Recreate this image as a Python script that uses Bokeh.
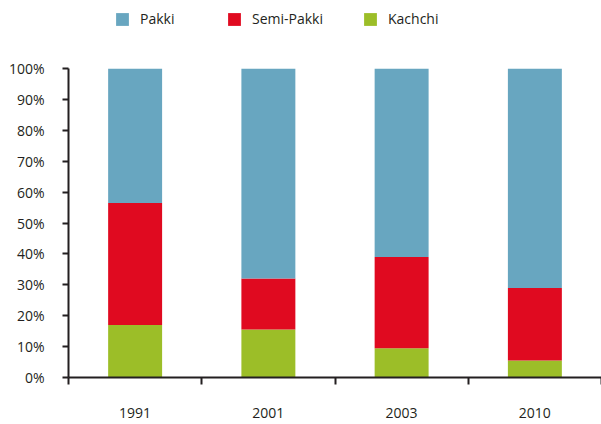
from bokeh.plotting import figure
from bokeh.layouts import column
from bokeh.models import (ColumnDataSource, Range1d, FixedTicker, NumeralTickFormatter,
                          Legend, LegendItem)
from bokeh.embed import file_html
from bokeh.resources import INLINE

years = ["1991", "2001", "2003", "2010"]
kachchi = [0.17, 0.155, 0.095, 0.055]
semi_pakki = [0.395, 0.165, 0.295, 0.235]
pakki = [0.435, 0.68, 0.61, 0.71]
series = ["Kachchi", "Semi-Pakki", "Pakki"]
colors = ["#9cbe28", "#e00a20", "#68a6c0"]

xs = [i + 0.5 for i in range(len(years))]
source = ColumnDataSource(dict(x=xs, Kachchi=kachchi, **{"Semi-Pakki": semi_pakki}, Pakki=pakki))

FONT = "Open Sans"
TXT = "#231f20"
FS = "14px"

p = figure(width=601, height=384, output_backend="svg", toolbar_location=None,
           x_range=Range1d(0, len(years)), y_range=Range1d(0, 1),
           min_border_left=68, min_border_right=0, min_border_top=28, min_border_bottom=47)
p.outline_line_color = None
p.grid.grid_line_color = None

rs = p.vbar_stack(series, x="x", width=0.405, color=colors, source=source, line_color=None)

# y axis
ya = p.yaxis[0]
ya.ticker = FixedTicker(ticks=[i / 10 for i in range(11)], minor_ticks=[])
ya.formatter = NumeralTickFormatter(format="0%")
ya.axis_line_color = TXT
ya.axis_line_width = 2
ya.major_tick_line_color = TXT
ya.major_tick_line_width = 2
ya.major_tick_in = 0
ya.major_tick_out = 6
ya.minor_tick_line_color = None
ya.major_label_standoff = 18
ya.major_label_text_font = FONT
ya.major_label_text_font_size = FS
ya.major_label_text_color = TXT

# x axis
xa = p.xaxis[0]
xa.ticker = FixedTicker(ticks=xs, minor_ticks=list(range(len(years) + 1)))
xa.major_label_overrides = {x: y for x, y in zip(xs, years)}
xa.axis_line_color = TXT
xa.axis_line_width = 2
xa.major_tick_line_color = None
xa.major_tick_in = 0
xa.major_tick_out = 0
xa.minor_tick_line_color = TXT
xa.minor_tick_line_width = 2
xa.minor_tick_in = 0
xa.minor_tick_out = 7
xa.major_label_standoff = 23
xa.major_label_text_font = FONT
xa.major_label_text_font_size = FS
xa.major_label_text_color = TXT

# legend strip above the chart (its frame is aligned with the chart frame at x=68)
lf = figure(width=601, height=40, output_backend="svg", toolbar_location=None,
            x_range=Range1d(0, 1), y_range=Range1d(0, 1), min_border=0)
lf.outline_line_color = None
lf.axis.visible = False
lf.grid.grid_line_color = None
legend_x = {"Pakki": 46, "Semi-Pakki": 158, "Kachchi": 294}
for s, c in zip(series, colors):
    r = lf.vbar(x=[0.5], top=[0], bottom=[0], width=0.1, color=c, line_color=None)
    lg = Legend(items=[LegendItem(label=s, renderers=[r])], location=(legend_x[s], 12),
                glyph_width=16, glyph_height=16, label_height=16, label_standoff=10,
                label_text_font=FONT, label_text_font_size=FS, label_text_color=TXT,
                border_line_color=None, background_fill_alpha=0, padding=0, margin=0)
    lf.add_layout(lg)

open("out.html", "w").write(file_html(column(lf, p, spacing=0), INLINE))
